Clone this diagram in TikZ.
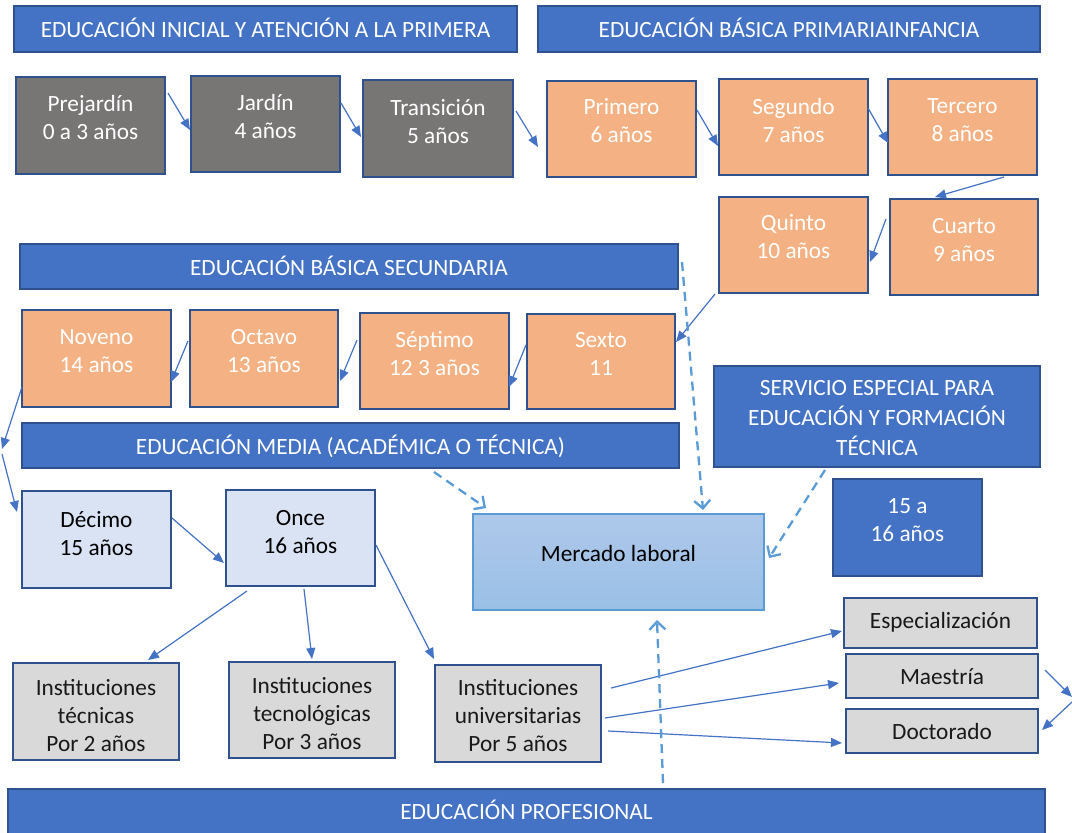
\documentclass[tikz,border=0pt]{standalone}
\usepackage{fontspec}
\setmainfont{Carlito}
\usetikzlibrary{arrows.meta,calc,fit}
\definecolor{bannerblue}{HTML}{4472C4}
\definecolor{edgeblue}{HTML}{2F528F}
\definecolor{greyfill}{HTML}{787575}
\definecolor{orangefill}{HTML}{F4B183}
\definecolor{paleblue}{HTML}{DAE3F3}
\definecolor{palegrey}{HTML}{D9D9D9}
\definecolor{dashblue}{HTML}{5B9BD5}
\definecolor{arrowblue}{HTML}{4472C4}
\definecolor{merctop}{HTML}{AEC8EA}
\definecolor{mercbot}{HTML}{9AC0E6}
% box: style, name, x1, y1, x2, y2, text centre y, text
\newcommand\bx[8]{\node[#1, fit={(#3,#4)(#5,#6)}] (#2) {};
  \node[#1 txt] at ({(#3+#5)/2},#7) {#8};}
% banner: name, x1, y1, x2, y2, baseline y, text
\newcommand\bn[7]{\node[banner, fit={(#2,#3)(#4,#5)}] (#1) {};
  \node[banner txt, anchor=base] at ({(#2+#4)/2},#6) {#7};}
\begin{document}
\begin{tikzpicture}[x=1pt,y=-1pt,
  font=\fontsize{23.3}{28}\selectfont,
  base/.style={inner sep=0pt, outer sep=0pt, line width=1.3pt, draw=edgeblue},
  banner/.style={base, fill=bannerblue},
  banner txt/.style={text=white, inner sep=0pt, align=center},
  gbox/.style={base, fill=greyfill},
  gbox txt/.style={text=white, inner sep=0pt, align=center},
  obox/.style={base, fill=orangefill},
  obox txt/.style={text=white, inner sep=0pt, align=center},
  lbox/.style={base, fill=paleblue},
  lbox txt/.style={text=black, inner sep=0pt, align=center},
  ibox/.style={base, fill=palegrey},
  ibox txt/.style={text=black!90, inner sep=0pt, align=center},
  mbox/.style={base, draw=dashblue, top color=merctop, bottom color=mercbot},
  mbox txt/.style={text=black, inner sep=0pt, align=center},
  arr/.style={draw=arrowblue, line width=1.2pt, -{Triangle[length=11pt,width=9pt]}},
  darr/.style={draw=dashblue, line width=2.3pt, dash pattern=on 9pt off 6pt,
    -{Straight Barb[length=8pt,width=16pt]}}]
\useasboundingbox (0,0) rectangle (1072,833);
\fill[white] (0,0) rectangle (1072,833);

% banners
\bn{binicial}{14}{6}{517}{52}{37}{EDUCACIÓN INICIAL Y ATENCIÓN A LA PRIMERA}
\bn{bprimaria}{538}{6}{1040}{52}{37}{EDUCACIÓN BÁSICA PRIMARIAINFANCIA}
\bn{bsec}{20}{244}{678}{289}{275}{EDUCACIÓN BÁSICA SECUNDARIA}
\bn{bmed}{22}{423}{679}{468}{454}{EDUCACIÓN MEDIA (ACADÉMICA O TÉCNICA)}
\bn{bprof}{8}{789}{1045}{845}{819}{EDUCACIÓN PROFESIONAL}
\node[banner, fit={(714,366)(1040,467)}] (serv) {};
\node[banner txt, font=\fontsize{23.3}{30}\selectfont] at (877,418) {SERVICIO ESPECIAL PARA\\EDUCACIÓN Y FORMACIÓN\\TÉCNICA};
\bx{banner}{quince}{833}{479}{982}{576}{520}{15 a\\16 años}

% initial
\bx{gbox}{prej}{16}{77}{165}{174}{117}{Prejardín\\0 a 3 años}
\bx{gbox}{jard}{191}{76}{340}{172}{116}{Jardín\\4 años}
\bx{gbox}{trans}{363}{80}{513}{177}{122}{Transición\\5 años}
% primary
\bx{obox}{prim}{547}{81}{696}{177}{121}{Primero\\6 años}
\bx{obox}{seg}{719}{79}{868}{175}{120}{Segundo\\7 años}
\bx{obox}{terc}{888}{79}{1037}{175}{120}{Tercero\\8 años}
\bx{obox}{quin}{719}{197}{868}{293}{237}{Quinto\\10 años}
\bx{obox}{cuar}{890}{199}{1038}{295}{240}{Cuarto\\9 años}
% secondary
\bx{obox}{nov}{22}{310}{171}{407}{351}{Noveno\\14 años}
\bx{obox}{oct}{190}{310}{338}{407}{351}{Octavo\\13 años}
\bx{obox}{sep}{360}{313}{509}{409}{354}{Séptimo\\12 3 años}
\bx{obox}{sex}{527}{314}{675}{409}{354}{Sexto\\11}
% media
\bx{lbox}{dec}{22}{491}{171}{588}{534}{Décimo\\15 años}
\bx{lbox}{once}{226}{490}{375}{586}{532}{Once\\16 años}
\bx{mbox}{merc}{473}{514}{764}{610}{553}{Mercado laboral}
% higher
\bx{ibox}{tec}{13}{663}{179}{760}{716}{Instituciones\\técnicas\\Por 2 años}
\bx{ibox}{tecno}{229}{662}{395}{758}{714}{Instituciones\\tecnológicas\\Por 3 años}
\bx{ibox}{univ}{435}{665}{601}{762}{716}{Instituciones\\universitarias\\Por 5 años}
\bx{ibox}{esp}{844}{598}{1037}{648}{622}{Especialización}
\bx{ibox}{mae}{846}{654}{1038}{698}{677}{Maestría}
\bx{ibox}{doc}{846}{709}{1038}{753}{731}{Doctorado}

\coordinate (leftout) at (2,449);
\coordinate (leftin) at (2,454);
\coordinate (rightout) at (1072,697);
\coordinate (rightin) at (1072,702);

% solid arrows
\draw[arr] ($(prej.north east)+(3,16)$) -- ($(jard.north west)+(-1,54)$);
\draw[arr] ($(jard.north east)+(1,27)$) -- ($(trans.north west)+(-2,57)$);
\draw[arr] ($(trans.north east)+(3,31)$) -- ($(prim.north west)+(-9,66)$);
\draw[arr] ($(prim.north east)+(1,29)$) -- ($(seg.north west)+(-1,67)$);
\draw[arr] ($(seg.north east)+(0,29)$) -- ($(terc.north west)+(0,64)$);
\draw[arr] ($(terc.south east)+(-33,2)$) -- ($(cuar.north west)+(45,-2)$);
\draw[arr] ($(cuar.north west)+(-4,20)$) -- ($(quin.north east)+(2,65)$);
\draw[arr] ($(quin.south west)+(-4,1)$) -- ($(sex.north east)+(1,28)$);
\draw[arr] ($(sex.north west)+(-1,31)$) -- ($(sep.north east)+(0,74)$);
\draw[arr] ($(sep.north west)+(-3,27)$) -- ($(oct.north east)+(2,71)$);
\draw[arr] ($(oct.north west)+(-2,31)$) -- ($(nov.north east)+(0,72)$);
\draw[arr] ($(nov.north west)+(0,77)$) -- (leftout);
\draw[arr] (leftin) -- ($(dec.north west)+(-5,21)$);
\draw[arr] ($(dec.north east)+(1,27)$) -- ($(once.north west)+(-2,73)$);
\draw[arr] ($(once.south west)+(21,5)$) -- ($(tec.north west)+(135,-3)$);
\draw[arr] ($(once.south west)+(78,3)$) -- ($(tecno.north west)+(83,-3)$);
\draw[arr] ($(once.north east)+(1,55)$) -- ($(univ.north west)+(-1,-6)$);
\draw[arr] ($(univ.north east)+(10,23)$) -- ($(esp.south west)+(-2,-17)$);
\draw[arr] ($(univ.north east)+(4,53)$) -- ($(mae.south west)+(-7,-15)$);
\draw[arr] ($(univ.north east)+(7,66)$) -- ($(doc.south west)+(-4,-10)$);
\draw[arr] ($(mae.north east)+(7,16)$) -- (rightout);
\draw[arr] (rightin) -- ($(doc.north east)+(4,21)$);

% dashed arrows to the labour market
\draw[darr] ($(bmed.south west)+(412,4)$) -- ($(merc.north west)+(13,-6)$);
\draw[darr] ($(bsec.north east)+(4,18)$) -- ($(merc.north west)+(230,-4)$);
\draw[darr] ($(serv.south west)+(111,3)$) -- ($(merc.north east)+(5,44)$);
\draw[darr] ($(bprof.north west)+(655,-6)$) -- ($(merc.south west)+(184,10)$);
\end{tikzpicture}
\end{document}
